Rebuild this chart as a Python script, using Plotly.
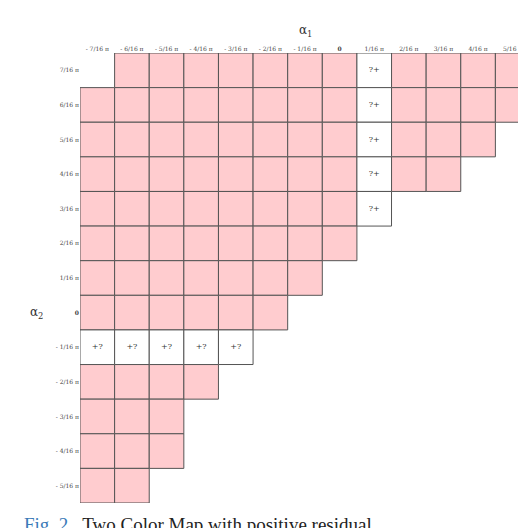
import plotly.graph_objects as go

# column values alpha_1 (multiples of pi/16) and row values alpha_2
alpha1 = [-7, -6, -5, -4, -3, -2, -1, 0, 1, 2, 3, 4, 5]
alpha2 = [7, 6, 5, 4, 3, 2, 1, 0, -1, -2, -3, -4, -5]
# for each row: first and last alpha_1 present
row_start = [-6, -7, -7, -7, -7, -7, -7, -7, -7, -7, -7, -7, -7]
row_end = [5, 5, 4, 3, 1, 0, -1, -2, -3, -4, -5, -5, -6]
# cells with undetermined sign
unknown_col = 1      # column alpha_1 = 1/16 pi, marked "?+"
unknown_row = -1     # row alpha_2 = -1/16 pi, marked "+?"


def frac_label(k):
    if k == 0:
        return "<b>0</b>"
    sign = "- " if k < 0 else ""
    return f"{sign}{abs(k)}/16 π"


xs, ys, colors, texts = [], [], [], []
for a2, s, e in zip(alpha2, row_start, row_end):
    for a1 in alpha1:
        if a1 < s or a1 > e:
            continue
        xs.append(alpha1.index(a1))
        ys.append(alpha2.index(a2))
        if a2 == unknown_row:
            colors.append("white")
            texts.append("+?")
        elif a1 == unknown_col:
            colors.append("white")
            texts.append("?+")
        else:
            colors.append("#ffcccf")
            texts.append("")

fig = go.Figure(go.Scatter(
    x=xs, y=ys, mode="markers+text", text=texts,
    textfont=dict(size=8, color="#333", family="DejaVu Serif"),
    marker=dict(symbol="square", size=34.6, color=colors,
                line=dict(color="#555", width=1)),
    hoverinfo="skip"))

fig.update_xaxes(range=[-0.5, 12.5], side="top", showgrid=False, zeroline=False,
                 tickvals=list(range(13)), ticktext=[frac_label(k) for k in alpha1],
                 tickfont=dict(size=6, color="#444", family="DejaVu Serif"),
                 ticks="", showline=False, automargin=False)
fig.update_yaxes(range=[12.5, -0.5], showgrid=False, zeroline=False,
                 tickvals=list(range(13)), ticktext=[frac_label(k) for k in alpha2],
                 tickfont=dict(size=6, color="#444", family="DejaVu Serif"),
                 ticks="", showline=False, automargin=False)

fig.add_annotation(text="α<sub>1</sub>", x=0.5, y=1.07, xref="paper", yref="paper",
                   showarrow=False, font=dict(size=12, family="DejaVu Serif", color="#333"))
fig.add_annotation(text="α<sub>2</sub>", x=-0.115, y=7, xref="paper", yref="y",
                   showarrow=False, font=dict(size=12, family="DejaVu Serif", color="#333"))
fig.add_annotation(text="<span style='color:#3a7ab8'>Fig. 2.</span>  Two Color Map with positive residual",
                   x=-0.13, y=-0.047, xref="paper", yref="paper", xanchor="left", yanchor="middle",
                   showarrow=False, font=dict(size=19, family="Liberation Serif", color="#222"))

fig.update_layout(width=526, height=528, margin=dict(l=72, r=4, t=45, b=33, autoexpand=False),
                  plot_bgcolor="white", paper_bgcolor="white", showlegend=False)
fig.write_html("out.html")
